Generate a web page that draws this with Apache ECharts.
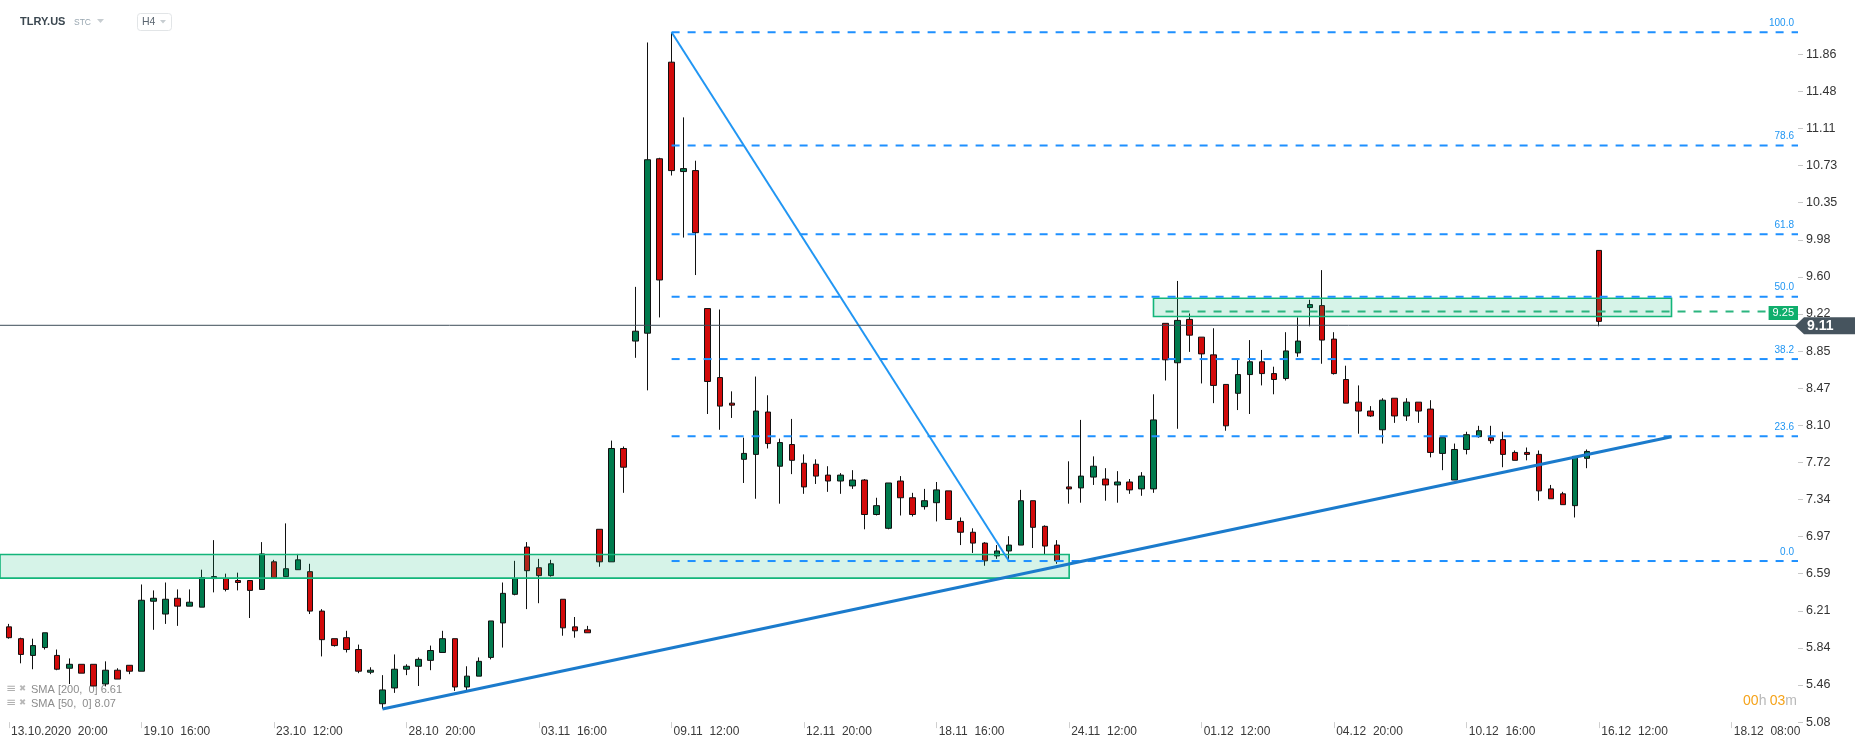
<!DOCTYPE html>
<html><head><meta charset="utf-8">
<script src="https://cdn.jsdelivr.net/npm/echarts@6/dist/echarts.min.js"></script>
<style>html,body{margin:0;padding:0;background:#fff;}#c{width:1866px;height:748px;}</style>
</head><body><div id="c"></div>
<script>
// ---------- data ----------
const xTickLabels = ['13.10.2020  20:00','19.10  16:00','23.10  12:00','28.10  20:00','03.11  16:00','09.11  12:00','12.11  20:00','18.11  16:00','24.11  12:00','01.12  12:00','04.12  20:00','10.12  16:00','16.12  12:00','18.12  08:00'];
const barsPerTick = 11;
const slotCount = 149; // H4 slots incl. empty future space
const yTickLabels = ['5.08','5.46','5.84','6.21','6.59','6.97','7.34','7.72','8.10','8.47','8.85','9.22','9.60','9.98','10.35','10.73','11.11','11.48','11.86'];

const opens = [6.05,5.93,5.76,5.84,5.76,5.63,5.67,5.67,5.47,5.61, 5.66,5.60,6.31,6.18,6.34,6.26,6.25,6.54,6.54,6.52, 6.52,6.43,6.71,6.56,6.63,6.61,6.21,5.93,5.94,5.82, 5.59,5.27,5.43,5.62,5.65,5.71,5.79,5.93,5.44,5.55, 5.74,6.09,6.38,6.86,6.65,6.57,6.33,6.05,6.02,7.04, 6.71,7.86,8.95,9.03,10.80,11.78,10.67,10.68,9.28,8.58, 8.32,7.75,7.80,8.23,7.68,7.90,7.71,7.70,7.59,7.53, 7.48,7.54,7.19,7.05,7.53,7.36,7.27,7.31,7.43,7.12, 7.01,6.90,6.77,6.82,6.88,7.33,7.07,6.88,7.47,7.46, 7.57,7.55,7.49,7.52,7.45,7.45,9.13,8.73,9.17,8.99, 8.81,8.51,8.42,8.61,8.74,8.62,8.57,8.83,9.29,9.31, 8.97,8.56,8.33,8.24,8.05,8.37,8.19,8.33,8.26,7.81, 7.54,7.85,7.98,7.97,7.95,7.82,7.82,7.80,7.45,7.40, 7.28,7.76,9.87];
const highs = [6.08,5.94,5.93,5.99,5.82,5.73,5.67,5.67,5.70,5.63, 5.66,6.48,6.42,6.50,6.43,6.43,6.63,6.93,6.59,6.60, 6.52,6.91,6.73,7.10,6.79,6.69,6.23,5.93,6.01,5.87, 5.64,5.56,5.77,5.67,5.74,5.86,6.01,5.93,5.65,5.74, 6.11,6.50,6.72,6.91,6.74,6.73,6.33,6.15,6.06,7.04, 7.94,7.88,9.50,11.98,10.81,12.08,11.22,10.78,9.28,9.27, 8.44,7.97,8.59,8.40,7.96,8.16,7.80,7.75,7.68,7.61, 7.64,7.55,7.36,7.51,7.58,7.41,7.45,7.52,7.43,7.16, 7.05,6.91,6.88,6.97,7.44,7.33,7.08,6.93,7.73,8.15, 7.78,7.66,7.63,7.55,7.62,8.41,9.13,9.56,9.23,8.99, 9.08,8.51,8.76,8.96,8.86,8.69,9.04,9.19,9.37,9.67, 9.04,8.70,8.50,8.29,8.37,8.37,8.37,8.33,8.35,7.97, 7.91,8.03,8.09,8.09,8.03,7.84,7.87,7.84,7.49,7.42, 7.78,7.85,9.87];
const lows = [5.93,5.68,5.62,5.82,5.61,5.47,5.58,5.45,5.45,5.52, 5.57,5.60,6.02,6.08,6.06,6.26,6.25,6.40,6.41,6.42, 6.14,6.43,6.55,6.56,6.63,6.18,5.75,5.85,5.79,5.58, 5.57,5.22,5.38,5.56,5.45,5.61,5.79,5.40,5.40,5.55, 5.72,5.84,6.37,6.23,6.29,6.56,5.96,5.94,5.99,6.66, 6.71,7.41,8.78,8.45,9.19,10.63,10.00,9.62,8.21,8.05, 8.17,7.51,7.35,7.86,7.30,7.60,7.40,7.50,7.42,7.40, 7.45,7.04,7.18,7.04,7.18,7.17,7.24,7.12,7.14,6.88, 6.80,6.67,6.74,6.72,6.88,6.85,6.78,6.69,7.30,7.31, 7.49,7.33,7.31,7.40,7.38,7.41,8.55,8.06,8.84,8.52, 8.32,8.04,8.25,8.21,8.50,8.41,8.55,8.79,9.10,8.72, 8.61,8.32,8.01,8.18,7.91,8.12,8.14,8.12,7.77,7.64, 7.54,7.80,7.97,7.91,7.67,7.74,7.74,7.33,7.35,7.29, 7.16,7.66,9.10];
const closes = [5.94,5.77,5.86,5.99,5.62,5.67,5.58,5.45,5.61,5.52, 5.60,6.32,6.34,6.33,6.26,6.30,6.55,6.56,6.43,6.50, 6.42,6.79,6.55,6.64,6.73,6.21,5.92,5.86,5.82,5.60, 5.61,5.41,5.62,5.65,5.72,5.81,5.93,5.44,5.55,5.70, 6.11,6.39,6.54,6.62,6.57,6.69,6.04,6.01,5.99,6.71, 7.86,7.67,9.05,10.79,9.57,10.68,10.70,10.05,8.54,8.29, 8.30,7.81,8.24,7.91,7.92,7.74,7.47,7.58,7.53,7.59, 7.54,7.19,7.28,7.51,7.36,7.19,7.33,7.44,7.14,7.01, 6.90,6.72,6.82,6.88,7.33,7.06,6.87,6.72,7.45,7.58, 7.68,7.49,7.52,7.44,7.58,8.15,8.76,9.16,9.01,8.82, 8.50,8.09,8.61,8.74,8.62,8.56,8.85,8.95,9.32,8.96, 8.62,8.32,8.24,8.19,8.35,8.19,8.33,8.24,7.82,7.97, 7.85,8.00,8.04,7.94,7.80,7.74,7.80,7.43,7.35,7.29, 7.78,7.83,9.15];

// drawings (anchored on bar indexes / prices)
const fibIndexes = [55, 83];
const fibPrices = [12.083, 6.718];
const fibPercents = [100, 78.6, 61.8, 50, 38.2, 23.6, 0];
const fibLabels = ['100.0','78.6','61.8','50.0','38.2','23.6','0.0'];
const trendIndexes = [31, 138];
const trendPrices = [5.217, 7.98];
const zoneStart = [0, 95];
const zoneEnd = [88, 138];
const zoneLow = [6.545, 9.20];
const zoneHigh = [6.785, 9.385];
const zoneFromEdge = [1, 0];
const levelLineStart = 96;
const levelLinePrice = 9.25;
const currentPrice = 9.11;

// ---------- chart ----------
const FONT = '"Liberation Sans", Arial, sans-serif';
const categories = Array.from({length: slotCount}, (_, i) => String(i));
const ohlc = opens.map((o, i) => [o, closes[i], lows[i], highs[i]]);
const yTop = parseFloat(yTickLabels[yTickLabels.length - 1]);
const yStep = (yTop - parseFloat(yTickLabels[1])) / (yTickLabels.length - 2);
const yMin = parseFloat(yTickLabels[1]) - yStep;
const fibLevels = fibPercents.map(p => [fibIndexes[0], fibPrices[1] + p / 100 * (fibPrices[0] - fibPrices[1])]);

const chart = echarts.init(document.getElementById('c'), null, {renderer: 'canvas'});
const option = {
  animation: false,
  backgroundColor: '#ffffff',
  grid: {left: 3, right: 68, top: 54.3, bottom: 25.9},
  xAxis: {
    type: 'category', data: categories, boundaryGap: true,
    axisLine: {show: false},
    axisTick: {show: true, alignWithLabel: true, interval: barsPerTick - 1, length: 6, lineStyle: {color: '#cfcfcf'}},
    axisLabel: {interval: barsPerTick - 1, align: 'left', margin: 4, padding: [0, 0, 0, 2], color: '#3a3a3a', fontSize: 12, fontFamily: FONT,
      formatter: (v, idx) => xTickLabels[Math.round(idx / barsPerTick)] || ''},
    splitLine: {show: false}
  },
  yAxis: {
    type: 'value', position: 'right', min: yMin, max: yTop, interval: yStep, scale: true,
    axisLine: {show: false},
    axisTick: {show: true, length: 5, lineStyle: {color: '#c8c8c8'}},
    axisLabel: {margin: 8, color: '#333', fontSize: 12.5, fontFamily: FONT,
      formatter: (v, idx) => (idx < yTickLabels.length ? yTickLabels[idx] : '')},
    splitLine: {show: false}
  },
  series: [
    {
      type: 'candlestick', data: ohlc, barWidth: 6, z: 2, clip: false,
      itemStyle: {color: '#007a4d', color0: '#d20a0a', borderColor: '#111', borderColor0: '#111', borderColorDoji: '#111', borderWidth: 1}
    },
    {
      type: 'custom', z: 5, silent: true, clip: false,
      data: zoneStart.map((s, i) => [s, zoneLow[i], zoneHigh[i], zoneEnd[i], zoneFromEdge[i]]),
      encode: {x: 0, y: 1},
      renderItem: (params, api) => {
        const cs = params.coordSys;
        let x0 = api.coord([api.value(0), api.value(2)])[0];
        if (api.value(4) === 1) x0 = cs.x - 3;
        const x1 = api.coord([api.value(3), api.value(2)])[0];
        const yT = api.coord([api.value(0), api.value(2)])[1];
        const yB = api.coord([api.value(0), api.value(1)])[1];
        return {type: 'rect', shape: {x: x0, y: yT, width: x1 - x0, height: yB - yT},
          style: {fill: 'rgba(0,178,115,0.16)', stroke: '#13b57a', lineWidth: 1.6}};
      }
    },
    {
      type: 'custom', z: 6, silent: true, clip: false,
      data: fibLevels, encode: {x: 0, y: 1},
      renderItem: (params, api) => {
        const cs = params.coordSys;
        const p = api.coord([api.value(0), api.value(1)]);
        const xEnd = cs.x + cs.width;
        return {type: 'group', children: [
          {type: 'line', shape: {x1: p[0], y1: p[1], x2: xEnd, y2: p[1]}, style: {stroke: '#1e90ff', lineWidth: 2, lineDash: [8, 8]}},
          {type: 'text', style: {text: fibLabels[params.dataIndex], x: xEnd - 4, y: p[1] - 4, align: 'right', verticalAlign: 'bottom', fill: '#2196f3', fontSize: 10, fontFamily: FONT}}
        ]};
      }
    },
    {
      type: 'line', z: 7, silent: true, symbol: 'none', clip: false,
      data: fibIndexes.map((x, i) => [x, fibPrices[i]]),
      lineStyle: {color: '#2196f3', width: 2}
    },
    {
      type: 'line', z: 7, silent: true, symbol: 'none', clip: false,
      data: trendIndexes.map((x, i) => [x, trendPrices[i]]),
      lineStyle: {color: '#1b7bcc', width: 3}
    },
    {
      type: 'custom', z: 8, silent: true, clip: false,
      data: [[levelLineStart, levelLinePrice, 0], [0, currentPrice, 1]], encode: {x: 0, y: 1},
      renderItem: (params, api) => {
        const cs = params.coordSys;
        const p = api.coord([api.value(0), api.value(1)]);
        const xEnd = cs.x + cs.width;
        if (api.value(2) === 0) {
          return {type: 'group', children: [
            {type: 'line', shape: {x1: p[0], y1: p[1], x2: xEnd, y2: p[1]}, style: {stroke: '#2bb57f', lineWidth: 2, lineDash: [8, 8]}},
            {type: 'text', style: {text: levelLinePrice.toFixed(2), x: xEnd, y: p[1] + 1.5, align: 'right', verticalAlign: 'middle', fill: '#fff', backgroundColor: '#0fae6c', padding: [2, 4, 1, 4], fontSize: 11, fontFamily: FONT}}
          ]};
        }
        const y = p[1];
        const bx = xEnd - 3;
        return {type: 'group', children: [
          {type: 'line', shape: {x1: 0, y1: y, x2: xEnd, y2: y}, style: {stroke: '#3c4c57', lineWidth: 1}},
          {type: 'polygon', shape: {points: [[bx, y + 0.5], [bx + 9, y - 8], [bx + 60, y - 8], [bx + 60, y + 9], [bx + 9, y + 9]]}, style: {fill: '#46545e'}},
          {type: 'text', style: {text: currentPrice.toFixed(2), x: bx + 12, y: y + 1, align: 'left', verticalAlign: 'middle', fill: '#fff', fontSize: 14, fontWeight: 'bold', fontFamily: FONT}}
        ]};
      }
    }
  ],
  graphic: [
    {type: 'text', left: 20, top: 16, style: {text: 'TLRY.US', fill: '#3b4750', fontSize: 11, fontWeight: 'bold', fontFamily: FONT}},
    {type: 'text', left: 74, top: 18, style: {text: 'STC', fill: '#98a6b0', fontSize: 8.5, fontFamily: FONT}},
    {type: 'polygon', shape: {points: [[97, 19], [104, 19], [100.5, 23]]}, style: {fill: '#c7cdd1'}},
    {type: 'rect', shape: {x: 137.5, y: 13.5, width: 34, height: 17, r: 3}, style: {fill: '#fff', stroke: '#e2e5e7', lineWidth: 1}},
    {type: 'text', left: 142, top: 17, style: {text: 'H4', fill: '#5b6670', fontSize: 10.5, fontFamily: FONT}},
    {type: 'polygon', shape: {points: [[160, 20], [166, 20], [163, 23.5]]}, style: {fill: '#c7cdd1'}},
    {type: 'text', left: 6, top: 683, style: {text: '≡', fill: '#b0b0b0', fontSize: 12, fontFamily: 'DejaVu Sans'}},
    {type: 'text', left: 19, top: 684, style: {text: '✖', fill: '#b8b8b8', fontSize: 8.5, fontFamily: 'DejaVu Sans'}},
    {type: 'text', left: 31, top: 684, style: {text: 'SMA [200,  0] 6.61', fill: '#8c8c8c', fontSize: 11, fontFamily: FONT}},
    {type: 'text', left: 6, top: 697, style: {text: '≡', fill: '#b0b0b0', fontSize: 12, fontFamily: 'DejaVu Sans'}},
    {type: 'text', left: 19, top: 698, style: {text: '✖', fill: '#b8b8b8', fontSize: 8.5, fontFamily: 'DejaVu Sans'}},
    {type: 'text', left: 31, top: 698, style: {text: 'SMA [50,  0] 8.07', fill: '#8c8c8c', fontSize: 11, fontFamily: FONT}},
    {type: 'text', right: 69, top: 694, style: {
      text: '{o|00}{g|h} {o|03}{g|m}',
      rich: {o: {fill: '#f5a31a', fontSize: 14, fontFamily: FONT}, g: {fill: '#b9b9b9', fontSize: 14, fontFamily: FONT}}
    }}
  ]
};
chart.setOption(option);
</script>
</body></html>
